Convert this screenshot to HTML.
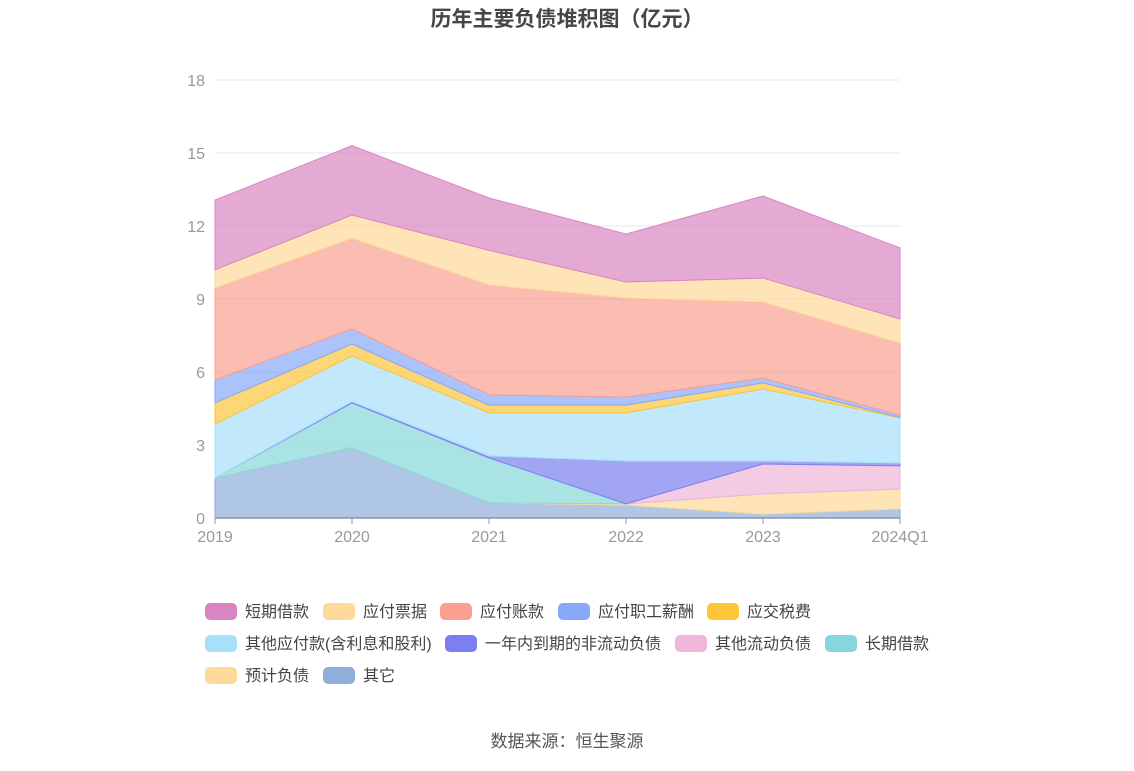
<!DOCTYPE html>
<html><head><meta charset="utf-8"><style>
body{margin:0;background:#fff;width:1134px;height:766px;overflow:hidden;font-family:"Liberation Sans","Noto Sans CJK SC",sans-serif;}
</style></head><body>
<svg width="1134" height="766" xmlns="http://www.w3.org/2000/svg" font-family="Liberation Sans, Noto Sans CJK SC, sans-serif">
<text x="567" y="26" text-anchor="middle" font-size="21" font-weight="bold" fill="#464646">历年主要负债堆积图（亿元）</text>
<g id="grid"></g><g id="areas"></g><g id="axis"></g><g id="legend"></g>
<text x="567" y="747" text-anchor="middle" font-size="17" fill="#555">数据来源：恒生聚源</text>
</svg>
<script>
const categories=["2019","2020","2021","2022","2023","2024Q1"];
const yTicks=[0,3,6,9,12,15,18];
const seriesNames=["其它","预计负债","长期借款","其他流动负债","一年内到期的非流动负债","其他应付款(含利息和股利)","应交税费","应付职工薪酬","应付账款","应付票据","短期借款"];
const sOther=[1.65,2.88,0.62,0.53,0.16,0.37];
const sProvision=[0,0,0,0.05,0.83,0.82];
const sLongLoan=[0,1.85,1.85,0,0,0];
const sOtherCurrent=[0,0,0,0,1.23,0.95];
const sDueWithinYear=[0,0.05,0.08,1.76,0.12,0.12];
const sOtherPayable=[2.21,1.88,1.77,1.98,2.96,1.85];
const sTax=[0.87,0.49,0.32,0.32,0.25,0.02];
const sSalary=[0.94,0.62,0.42,0.33,0.2,0.1];
const sAccounts=[3.78,3.73,4.52,4.07,3.13,2.96];
const sNotes=[0.75,0.95,1.42,0.66,0.98,0.99];
const sShortLoan=[2.87,2.85,2.15,1.97,3.37,2.92];
const seriesData=[sOther,sProvision,sLongLoan,sOtherCurrent,sDueWithinYear,sOtherPayable,sTax,sSalary,sAccounts,sNotes,sShortLoan];
const colors=["#8eaedb","#ffd99a","#86d7d9","#eeb6d8","#7b7ff0","#a8e0fa","#fcc53a","#88a8f8","#f9a090","#ffd99a","#d986c0"];
const NS="http://www.w3.org/2000/svg";
const X0=215,X1=900,Y0=518,Y1=80;
const xs=i=>X0+(X1-X0)*i/(categories.length-1);
const ys=v=>Y0-(Y0-Y1)*v/18;
function mk(t,a,p){const e=document.createElementNS(NS,t);for(const k in a)e.setAttribute(k,a[k]);p.appendChild(e);return e;}
const grid=document.getElementById('grid'),axis=document.getElementById('axis'),areas=document.getElementById('areas'),legend=document.getElementById('legend');
yTicks.forEach(t=>{
 if(t>0){const l=mk('line',{x1:X0,x2:X1,y1:ys(t),y2:ys(t),stroke:'#e4e6f0'},grid);
 
 }
 const tx=mk('text',{x:205,y:ys(t)+6,'text-anchor':'end','font-size':16,fill:'#999'},axis);tx.textContent=t;
 
 
});
let base=categories.map(()=>0);
seriesData.forEach((s,k)=>{
 const top=base.map((b,i)=>b+s[i]);
 let d='M'+top.map((v,i)=>xs(i)+','+ys(v)).join('L');
 for(let i=categories.length-1;i>=0;i--)d+='L'+xs(i)+','+ys(base[i]);
 const p=mk('path',{d:d+'Z',fill:colors[k],'fill-opacity':0.7,stroke:colors[k],'stroke-width':1},areas);
 
 
 base=top;
});
mk('line',{x1:X0,x2:X1,y1:Y0,y2:Y0,stroke:'#8a93a8','stroke-width':1.5},axis);
categories.forEach((c,i)=>{
 mk('line',{x1:xs(i),x2:xs(i),y1:Y0,y2:Y0+6,stroke:'#8a93a8'},axis);
 const tx=mk('text',{x:xs(i),y:Y0+24,'text-anchor':'middle','font-size':16,fill:'#999'},axis);tx.textContent=c;
 
 
});
const legendOrder=[10,9,8,7,6,5,4,3,2,1,0];
const lpos=[[205,611],[323,611],[440,611],[558,611],[707,611],[205,643],[445,643],[675,643],[825,643],[205,675],[323,675]];
legendOrder.forEach((k,j)=>{
 const g=mk('g',{},legend);
 
 
 const [x,y]=lpos[j];
 mk('rect',{x:x,y:y-8,width:32,height:17,rx:5,fill:colors[k]},g);
 const t=mk('text',{x:x+40,y:y+6,'font-size':16,fill:'#444'},g);t.textContent=seriesNames[k];
});
</script>
</body></html>
